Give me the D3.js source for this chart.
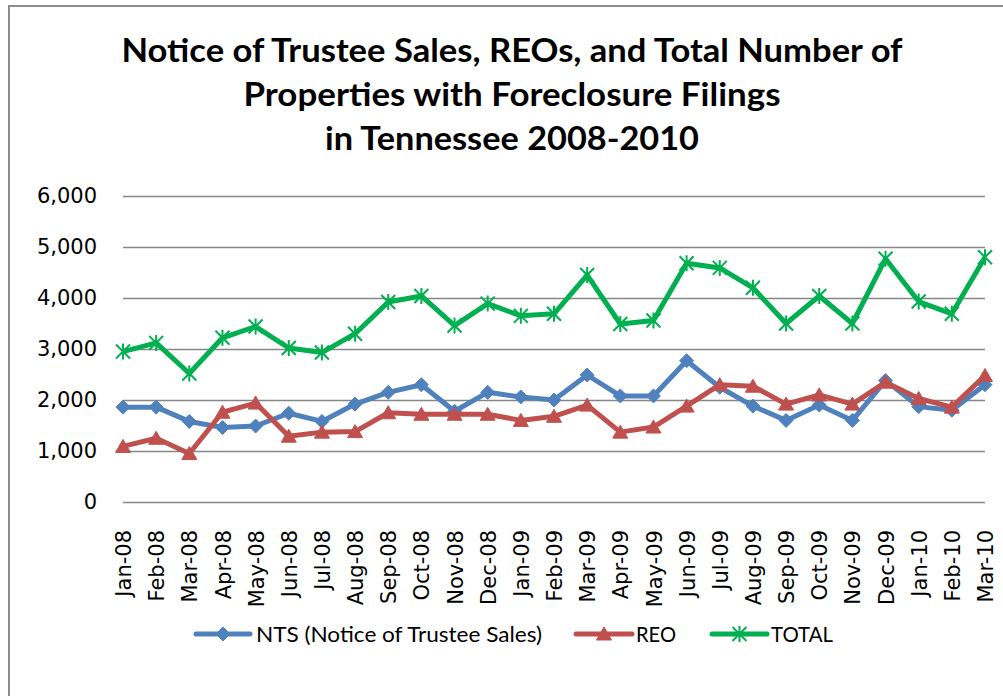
<!DOCTYPE html>
<html>
<head>
<meta charset="utf-8">
<script src="https://cdn.jsdelivr.net/npm/d3@7"></script>
<style>
  body { margin: 0; background: #fff; }
  svg { display: block; }
</style>
</head>
<body>
<svg></svg>
<script>
// months on the x axis
var months = ["Jan-08","Feb-08","Mar-08","Apr-08","May-08","Jun-08","Jul-08","Aug-08","Sep-08",
  "Oct-08","Nov-08","Dec-08","Jan-09","Feb-09","Mar-09","Apr-09","May-09","Jun-09","Jul-09",
  "Aug-09","Sep-09","Oct-09","Nov-09","Dec-09","Jan-10","Feb-10","Mar-10"];

var ntsValues = [1860,1860,1580,1460,1490,1740,1580,1920,2150,2300,1780,2150,2060,2000,2490,
  2080,2080,2770,2250,1880,1600,1900,1600,2380,1870,1800,2300];

var reoValues = [1090,1250,950,1760,1940,1290,1370,1380,1750,1720,1720,1720,1600,1680,1900,
  1370,1470,1880,2300,2270,1920,2100,1920,2350,2030,1860,2480];

var totalValues = [2950,3120,2520,3220,3440,3020,2930,3300,3920,4040,3460,3890,3650,3690,4450,
  3490,3560,4680,4590,4200,3500,4040,3500,4770,3930,3690,4800];

var yTicks = [0,1000,2000,3000,4000,5000,6000];

var titleLines = ["Notice of Trustee Sales, REOs, and Total Number of",
  "Properties with Foreclosure Filings", "in Tennessee 2008-2010"];

var width = 1003, height = 696;

var series = [
  {name: "NTS (Notice of Trustee Sales)", values: ntsValues, color: "#4F81BD", marker: "diamond"},
  {name: "REO", values: reoValues, color: "#C0504D", marker: "triangle"},
  {name: "TOTAL", values: totalValues, color: "#00B050", marker: "star"}
];

var svg = d3.select("svg")
    .attr("width", width)
    .attr("height", height);

// chart frame (only left and top edges are in view)
svg.append("path")
    .attr("d", "M9," + height + " L9,6 L" + width + ",6")
    .attr("fill", "none")
    .attr("stroke", "#8c8c8c")
    .attr("stroke-width", 2);

// title
var titleWidths = [781, 537, 374];
svg.append("g").selectAll("text")
  .data(titleLines)
  .enter()
  .append("text")
    .attr("x", 512)
    .attr("y", (d, i) => 62 + i * 44)
    .attr("text-anchor", "middle")
    .attr("textLength", (d, i) => titleWidths[i])
    .attr("lengthAdjust", "spacingAndGlyphs")
    .style("font-family", "Lato, 'Open Sans', sans-serif")
    .style("font-weight", "bold")
    .style("font-size", "32px")
    .text(d => d);

var xScale = d3.scalePoint()
    .domain(months)
    .range([123, 985]);

var yScale = d3.scaleLinear()
    .domain([0, 6000])
    .range([502, 196]);

// gridlines
svg.append("g")
    .attr("transform", "translate(123,0)")
    .call(d3.axisLeft(yScale).tickValues(yTicks).tickSize(-(985 - 123)).tickFormat(""))
    .call(g => g.select(".domain").remove())
    .call(g => g.selectAll("line").attr("stroke", "#868686").attr("stroke-width", 1.5));

// y labels
svg.append("g")
    .attr("transform", "translate(123,0)")
    .call(d3.axisLeft(yScale).tickValues(yTicks).tickSize(0).tickPadding(26).tickFormat(d3.format(",")))
    .call(g => g.select(".domain").remove())
    .call(g => g.selectAll("text")
      .style("font-family", "'DejaVu Sans', sans-serif")
      .style("font-size", "21px")
      .attr("fill", "#000"));

// x labels
svg.append("g")
    .attr("transform", "translate(0,502)")
    .call(d3.axisBottom(xScale).tickSize(0))
    .call(g => g.select(".domain").remove())
    .call(g => g.selectAll("text")
      .attr("transform", "rotate(-90)")
      .attr("x", -28)
      .attr("y", 0)
      .attr("dy", "0.36em")
      .attr("text-anchor", "end")
      .style("font-family", "'DejaVu Sans', sans-serif")
      .style("font-size", "21px")
      .attr("fill", "#000"));

function markerPath(type) {
  if (type === "diamond") return "M0,-7 L7,0 L0,7 L-7,0 Z";
  if (type === "triangle") return "M0,-7 L7.5,6 L-7.5,6 Z";
  return "M-7,-7 L7,7 M-7,7 L7,-7 M0,-8 L0,8";
}

function drawMarker(sel, s) {
  if (s.marker === "star") {
    sel.attr("fill", "none").attr("stroke", s.color).attr("stroke-width", 2);
  } else {
    sel.attr("fill", s.color).attr("stroke", s.color).attr("stroke-width", 1);
  }
  sel.attr("d", markerPath(s.marker));
}

var line = d3.line()
    .x((d, i) => xScale(months[i]))
    .y(d => yScale(d));

series.forEach(function(s) {
  var g = svg.append("g");
  g.append("path")
      .datum(s.values)
      .attr("d", line)
      .attr("fill", "none")
      .attr("stroke", s.color)
      .attr("stroke-width", 5)
      .attr("stroke-linejoin", "round");
  g.selectAll("path.mk")
    .data(s.values)
    .enter()
    .append("path")
      .attr("class", "mk")
      .attr("transform", (d, i) => "translate(" + xScale(months[i]) + "," + yScale(d) + ")")
      .call(drawMarker, s);
});

// legend
var legendY = 634;
var legendItems = [
  {x1: 196, x2: 250, tx: 256, tw: 286},
  {x1: 576, x2: 632, tx: 636, tw: 40},
  {x1: 712, x2: 767, tx: 771, tw: 62}
];
series.forEach(function(s, i) {
  var it = legendItems[i];
  var g = svg.append("g");
  g.append("line")
      .attr("x1", it.x1).attr("x2", it.x2)
      .attr("y1", legendY).attr("y2", legendY)
      .attr("stroke", s.color)
      .attr("stroke-width", 5)
      .attr("stroke-linecap", "round");
  g.append("path")
      .attr("transform", "translate(" + ((it.x1 + it.x2) / 2) + "," + legendY + ")")
      .call(drawMarker, s);
  g.append("text")
      .attr("x", it.tx)
      .attr("y", legendY)
      .attr("dy", "0.36em")
      .attr("textLength", it.tw)
      .attr("lengthAdjust", "spacingAndGlyphs")
      .style("font-family", "Lato, 'Open Sans', sans-serif")
      .style("font-size", "21px")
      .text(s.name);
});
</script>
</body>
</html>
